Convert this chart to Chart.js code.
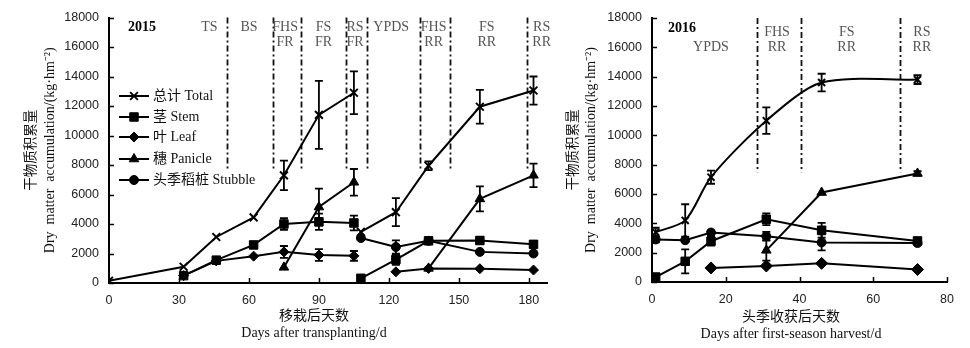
<!DOCTYPE html>
<html><head><meta charset="utf-8">
<script src="https://cdn.jsdelivr.net/npm/chart.js@4.4.0/dist/chart.umd.min.js"></script>
<style>
html,body{margin:0;padding:0;background:#fff;width:970px;height:348px;overflow:hidden}
canvas{position:absolute;top:0}
</style></head><body>
<canvas id="c1" width="555" height="348" style="left:0"></canvas>
<canvas id="c2" width="415" height="348" style="left:555px"></canvas>
<script>
// ===== 2015 data =====
const days15First = [0, 32, 46, 62, 75, 90, 105];
const total15First = [150, 1100, 3120, 4450, 7300, 11400, 12900];
const total15FirstErr = [0, 0, 0, 0, 1000, 2300, 1450];
const days15Organ = [32, 46, 62, 75, 90, 105];
const stem15First = [500, 1550, 2580, 4000, 4150, 4070];
const stem15FirstErr = [0, 0, 0, 400, 550, 500];
const leaf15First = [500, 1500, 1820, 2110, 1900, 1840];
const leaf15FirstErr = [0, 0, 0, 400, 400, 330];
const days15Panicle = [75, 90, 105];
const panicle15First = [1060, 5150, 6830];
const panicle15FirstErr = [0, 1250, 900];
const days15Ratoon = [108, 123, 137, 159, 182];
const total15Ratoon = [3460, 4800, 7950, 11950, 13050];
const total15RatoonErr = [0, 950, 300, 1150, 950];
const stem15Ratoon = [320, 1580, 2860, 2880, 2620];
const stem15RatoonErr = [0, 350, 0, 250, 200];
const stubble15 = [3050, 2440, 2860, 2110, 2000];
const stubble15Err = [0, 450, 0, 0, 0];
const days15RatoonLeaf = [123, 137, 159, 182];
const leaf15Ratoon = [760, 990, 970, 880];
const days15RatoonPanicle = [137, 159, 182];
const panicle15Ratoon = [990, 5700, 7300];
const panicle15RatoonErr = [0, 850, 800];
const phaseBounds15 = [50.5, 70.3, 82.5, 101.6, 110.4, 133.3, 146, 179.1];
const phaseNames15 = [['TS'], ['BS'], ['FHS', 'FR'], ['FS', 'FR'], ['RS', 'FR'], ['YPDS'], ['FHS', 'RR'], ['FS', 'RR'], ['RS', 'RR']];
const phaseLabelDays15 = [43, 60, 75.5, 92, 105.5, 121, 139.2, 162, 185.5];
const xTicks15 = [0, 30, 60, 90, 120, 150, 180];

// ===== 2016 data =====
const days16 = [1, 9, 16, 31, 46, 72];
const total16 = [3400, 4200, 7150, 11000, 13600, 13800];
const total16Err = [300, 1100, 450, 900, 600, 300];
const stubble16 = [2900, 2850, 3370, 3120, 2700, 2660];
const stubble16Err = [200, 0, 150, 300, 550, 0];
const stem16 = [340, 1410, 2780, 4280, 3530, 2800];
const stem16Err = [0, 820, 300, 400, 500, 0];
const days16Leaf = [16, 31, 46, 72];
const leaf16 = [960, 1090, 1270, 850];
const days16Panicle = [31, 46, 72];
const panicle16 = [2160, 6100, 7400];
const panicle16Err = [700, 0, 150];
const phaseBounds16 = [28.6, 40.3, 67.2];
const phaseNames16 = [['', 'YPDS'], ['FHS', 'RR'], ['FS', 'RR'], ['RS', 'RR']];
const phaseLabelDays16 = [16, 33.9, 52.8, 73.2];
const xTicks16 = [0, 20, 40, 60, 80];

const yTicks = [0, 2000, 4000, 6000, 8000, 10000, 12000, 14000, 16000, 18000];
const legendLabels = ['总计 Total', '茎 Stem', '叶 Leaf', '穗 Panicle', '头季稻桩 Stubble'];

// ===== styles =====
const STY = {
  total:   {pointStyle: 'crossRot', pointRadius: 5.5, pointBorderWidth: 2},
  stem:    {pointStyle: 'rect', pointRadius: 6, pointBorderWidth: 1},
  leaf:    {pointStyle: 'rectRot', pointRadius: 5, pointBorderWidth: 1},
  panicle: {pointStyle: 'triangle', pointRadius: 5.5, pointBorderWidth: 1},
  stubble: {pointStyle: 'circle', pointRadius: 4.5, pointBorderWidth: 1}
};
const legendStyles = [STY.total, STY.stem, STY.leaf, STY.panicle, STY.stubble];

function pts(xs, ys) { return xs.map((x, i) => ({x: x, y: ys[i]})); }
function ds(xs, ys, errs, sty, extra) {
  return Object.assign({
    data: pts(xs, ys), errors: errs || null,
    borderColor: '#000', backgroundColor: '#000', borderWidth: 2,
    pointBackgroundColor: '#000', pointBorderColor: '#000',
    pointHoverRadius: sty.pointRadius, tension: 0, fill: false
  }, sty, extra || {});
}

function decor(cfg) {
  return {
    id: 'decor',
    beforeDatasetsDraw(chart) {
      const {ctx} = chart; const x = chart.scales.x, y = chart.scales.y;
      ctx.save();
      ctx.strokeStyle = '#111'; ctx.lineWidth = 1.8; ctx.setLineDash([6, 3, 2, 3]);
      cfg.bounds.forEach(d => {
        const px = Math.round(x.getPixelForValue(d)) + 0.5;
        ctx.beginPath();
        ctx.moveTo(px, y.getPixelForValue(y.max));
        ctx.lineTo(px, y.getPixelForValue(cfg.lineBottom));
        ctx.stroke();
      });
      ctx.setLineDash([]);
      ctx.strokeStyle = '#000'; ctx.lineWidth = 1.8;
      chart.data.datasets.forEach(d => {
        if (!d.errors) return;
        d.data.forEach((p, j) => {
          const e = d.errors[j]; if (!e) return;
          const px = x.getPixelForValue(p.x);
          const y1 = y.getPixelForValue(p.y + e), y2 = y.getPixelForValue(p.y - e);
          ctx.beginPath();
          ctx.moveTo(px, y1); ctx.lineTo(px, y2);
          ctx.moveTo(px - 4, y1); ctx.lineTo(px + 4, y1);
          ctx.moveTo(px - 4, y2); ctx.lineTo(px + 4, y2);
          ctx.stroke();
        });
      });
      ctx.restore();
    },
    afterDraw(chart) {
      const {ctx, chartArea: a} = chart; const x = chart.scales.x, y = chart.scales.y;
      ctx.save();
      // inward ticks
      ctx.strokeStyle = '#000'; ctx.lineWidth = 1.5;
      x.ticks.forEach(t => {
        const px = Math.round(x.getPixelForValue(t.value)) + 0.5;
        ctx.beginPath(); ctx.moveTo(px, a.bottom); ctx.lineTo(px, a.bottom - 5); ctx.stroke();
      });
      y.ticks.forEach(t => {
        const py = Math.round(y.getPixelForValue(t.value)) + 0.5;
        ctx.beginPath(); ctx.moveTo(a.left, py); ctx.lineTo(a.left + 5, py); ctx.stroke();
      });
      // phase labels
      ctx.fillStyle = '#555'; ctx.font = '14px "Liberation Serif"';
      ctx.textAlign = 'center'; ctx.textBaseline = 'middle';
      cfg.names.forEach((lines, i) => {
        const px = x.getPixelForValue(cfg.labelDays[i]);
        lines.forEach((s, k) => ctx.fillText(s, px, a.top + cfg.rowY + k * 15));
      });
      // year
      ctx.fillStyle = '#000'; ctx.font = 'bold 14px "Liberation Serif"';
      ctx.fillText(cfg.year, a.left + cfg.yearDx, a.top + cfg.yearDy);
      // y title
      ctx.save();
      ctx.translate(cfg.yTitleX, (a.top + a.bottom) / 2);
      ctx.rotate(-Math.PI / 2);
      ctx.fillStyle = '#111';
      ctx.font = '13.5px "Noto Sans CJK SC"';
      ctx.fillText('干物质积累量', 0, 0);
      ctx.font = '14px "Liberation Serif"';
      ctx.fillText('Dry  matter  accumulation/(kg·hm⁻²)', 0, cfg.yTitleGap);
      ctx.restore();
      // x title
      ctx.fillStyle = '#111';
      ctx.font = '14px "Noto Sans CJK SC"';
      ctx.fillText(cfg.xTitleCn, cfg.xTitleX, cfg.xTitleY);
      ctx.font = '14px "Liberation Serif"';
      ctx.fillText(cfg.xTitleEn, cfg.xTitleX, cfg.xTitleY + 18);
      // legend
      if (cfg.legend) {
        const L = cfg.legend;
        legendLabels.forEach((lab, i) => {
          const ly = L.rows[i];
          ctx.strokeStyle = '#000'; ctx.lineWidth = 2;
          ctx.beginPath(); ctx.moveTo(L.x0, ly); ctx.lineTo(L.x1, ly); ctx.stroke();
          ctx.fillStyle = '#000'; ctx.strokeStyle = '#000';
          const st = legendStyles[i];
          ctx.lineWidth = st.pointBorderWidth;
          Chart.helpers.drawPoint(ctx, {pointStyle: st.pointStyle, radius: st.pointRadius, rotation: 0, borderWidth: st.pointBorderWidth}, (L.x0 + L.x1) / 2, ly);
          ctx.fillStyle = '#111'; ctx.textAlign = 'left';
          ctx.font = '14px "Liberation Serif", "Noto Sans CJK SC"';
          ctx.fillText(lab, L.tx, ly);
        });
      }
      ctx.restore();
    }
  };
}

function baseOptions(xTicks, xMax, yWidth, xHeight, pad) {
  return {
    responsive: false, animation: false, devicePixelRatio: 1,
    layout: {padding: pad},
    plugins: {legend: {display: false}, tooltip: {enabled: false}},
    scales: {
      x: {
        type: 'linear', min: 0, max: xMax,
        afterBuildTicks: s => { s.ticks = xTicks.map(v => ({value: v})); },
        afterFit: s => { s.height = xHeight; },
        grid: {display: false, drawTicks: false},
        border: {display: true, color: '#000', width: 2},
        ticks: {color: '#222', font: {family: 'Liberation Sans', size: 12.5}, padding: 10, maxRotation: 0, autoSkip: false,
                callback: v => String(v)}
      },
      y: {
        type: 'linear', min: 0, max: 18000,
        afterBuildTicks: s => { s.ticks = yTicks.map(v => ({value: v})); },
        afterFit: s => { s.width = yWidth; },
        grid: {display: false, drawTicks: false},
        border: {display: true, color: '#000', width: 2},
        ticks: {color: '#222', font: {family: 'Liberation Sans', size: 12.5}, padding: 10, autoSkip: false,
                callback: v => String(v)}
      }
    }
  };
}

new Chart(document.getElementById('c1'), {
  type: 'line',
  data: {datasets: [
    ds(days15First, total15First, total15FirstErr, STY.total),
    ds(days15Organ, stem15First, stem15FirstErr, STY.stem),
    ds(days15Organ, leaf15First, leaf15FirstErr, STY.leaf),
    ds(days15Panicle, panicle15First, panicle15FirstErr, STY.panicle),
    ds(days15Ratoon, total15Ratoon, total15RatoonErr, STY.total),
    ds(days15Ratoon, stem15Ratoon, stem15RatoonErr, STY.stem),
    ds(days15Ratoon, stubble15, stubble15Err, STY.stubble),
    ds(days15RatoonLeaf, leaf15Ratoon, null, STY.leaf),
    ds(days15RatoonPanicle, panicle15Ratoon, panicle15RatoonErr, STY.panicle)
  ]},
  options: baseOptions(xTicks15, 188, 109, 65, {top: 16, right: 3, left: 0, bottom: 0}),
  plugins: [decor({
    bounds: phaseBounds15, lineBottom: 7750, names: phaseNames15, labelDays: phaseLabelDays15,
    rowY: 10, year: '2015', yearDx: 33, yearDy: 10,
    yTitleX: 30, yTitleGap: 20,
    xTitleCn: '移栽后天数', xTitleEn: 'Days after transplanting/d', xTitleX: 314, xTitleY: 315,
    legend: {x0: 119, x1: 149, tx: 153, rows: [96, 117, 137, 159, 180]}
  })]
});

new Chart(document.getElementById('c2'), {
  type: 'line',
  data: {datasets: [
    ds(days16, total16, total16Err, Object.assign({}, STY.total, {pointRadius: 5}), {tension: 0.28}),
    ds(days16, stem16, stem16Err, STY.stem),
    ds(days16, stubble16, stubble16Err, STY.stubble),
    ds(days16Leaf, leaf16, null, Object.assign({}, STY.leaf, {pointRadius: 6})),
    ds(days16Panicle, panicle16, panicle16Err, STY.panicle)
  ]},
  options: baseOptions(xTicks16, 80, 97, 66, {top: 18, right: 23, left: 0, bottom: 0}),
  plugins: [decor({
    bounds: phaseBounds16, lineBottom: 7490, names: phaseNames16, labelDays: phaseLabelDays16,
    rowY: 14, year: '2016', yearDx: 30, yearDy: 10,
    yTitleX: 17, yTitleGap: 19,
    xTitleCn: '头季收获后天数', xTitleEn: 'Days after first-season harvest/d', xTitleX: 236, xTitleY: 316,
    legend: null
  })]
});
</script>
</body></html>
